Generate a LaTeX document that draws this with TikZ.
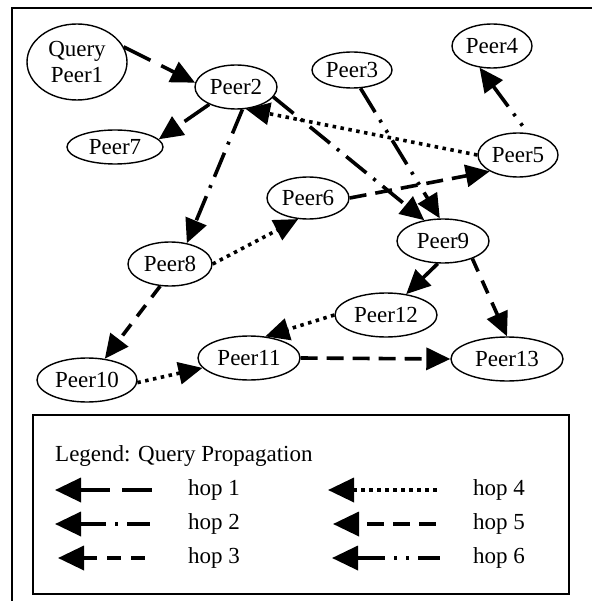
\documentclass[tikz,border=0pt]{standalone}
\usepackage{fontspec}
\setmainfont{Liberation Serif}
\usetikzlibrary{shapes.geometric,arrows.meta}
\tikzset{
 peer/.style={ellipse, draw, line width=1.4pt, inner sep=0pt, font=\fontsize{23}{26}\selectfont},
 legtext/.style={inner sep=0pt, anchor=west, font=\fontsize{23}{26}\selectfont},
 conn/.style={line width=3.6pt, -{Triangle[length=24pt,width=22pt]}},
 legarrow/.style={line width=3.6pt, {Triangle[length=26pt,width=24pt]}-},
 patone/.style={dash pattern=on 30pt off 12pt},
 pattwo/.style={dash pattern=on 26pt off 9pt on 3pt off 9pt},
 patthree/.style={dash pattern=on 14pt off 10pt},
 patfour/.style={dash pattern=on 3.5pt off 4.5pt},
 patfive/.style={dash pattern=on 17pt off 9pt},
 patsix/.style={dash pattern=on 28pt off 9pt on 3pt off 9pt on 3pt off 9pt},
}
\begin{document}
\begin{tikzpicture}[x=1pt,y=-1pt]
\useasboundingbox (0,0) rectangle (592,601);
\draw[line width=2pt] (12,601) -- (12,8) -- (592,8);
% nodes
\node[peer, minimum width=100pt, minimum height=76pt, align=center] (p1) at (77,62) {Query\\Peer1};
\node[peer, minimum width=82pt, minimum height=44pt] (p2) at (236,87) {Peer2};
\node[peer, minimum width=80pt, minimum height=36pt] (p3) at (352,70) {Peer3};
\node[peer, minimum width=80pt, minimum height=44pt] (p4) at (492,46) {Peer4};
\node[peer, minimum width=80pt, minimum height=44pt] (p5) at (518,155) {Peer5};
\node[peer, minimum width=82pt, minimum height=42pt] (p6) at (308,198) {Peer6};
\node[peer, minimum width=96pt, minimum height=34pt] (p7) at (115,147) {Peer7};
\node[peer, minimum width=84pt, minimum height=44pt] (p8) at (170,264) {Peer8};
\node[peer, minimum width=92pt, minimum height=44pt] (p9) at (443,241) {Peer9};
\node[peer, minimum width=100pt, minimum height=44pt] (p10) at (87,380) {Peer10};
\node[peer, minimum width=102pt, minimum height=44pt] (p11) at (249,358) {Peer11};
\node[peer, minimum width=102pt, minimum height=44pt] (p12) at (386,315) {Peer12};
\node[peer, minimum width=112pt, minimum height=44pt] (p13) at (507,359) {Peer13};
% connectors
\draw[conn, patone] (p1.18) -- (p2.174);
\draw[conn, patone] (p2.213) -- (p7.10);
\draw[conn, pattwo] (p2.286) -- (p8.51);
\draw[conn, pattwo] (p2.345) -- (p9.132);
\draw[conn, patsix] (p3.295) -- (p9.98);
\draw[conn, patfour] (p5.180) -- (p2.294);
\draw[conn, patfive] (p6.0) -- (p5.210);
\draw[conn, patfour] (p8.0) -- (p6.245);
\draw[conn, patthree] (p8.246) -- (p10.50);
\draw[conn, patfour] (p10.357) -- (p11.192);
\draw[conn, patfour] (p12.180) -- (p11.53);
\draw[conn, patfive] (p11.0) -- (p13.180);
\draw[conn, patone] (p9.257) -- (p12.46);
\draw[conn, patthree] (p9.329) -- (p13.90);
\draw[conn, patsix, dash phase=28pt] (p5.66) -- (p4.240);
% legend
\draw[line width=1.8pt] (33,415) rectangle (569,594);
\node[legtext] (lt) at (55,456) {Legend: Query Propagation};
\node[legtext] (h1) at (188,490) {hop 1};
\node[legtext] (h2) at (188,524) {hop 2};
\node[legtext] (h3) at (188,558) {hop 3};
\node[legtext] (h4) at (473,490) {hop 4};
\node[legtext] (h5) at (473,524) {hop 5};
\node[legtext] (h6) at (473,558) {hop 6};
\draw[legarrow, patone] ([xshift=-133pt]h1.west) -- ([xshift=-35pt]h1.west);
\draw[legarrow, pattwo] ([xshift=-133pt]h2.west) -- ([xshift=-38pt]h2.west);
\draw[legarrow, patthree] ([xshift=-130pt]h3.west) -- ([xshift=-43pt]h3.west);
\draw[legarrow, patfour] ([xshift=-145pt]h4.west) -- ([xshift=-33pt]h4.west);
\draw[legarrow, patfive, dash phase=17pt] ([xshift=-140pt]h5.west) -- ([xshift=-37pt]h5.west);
\draw[legarrow, patsix] ([xshift=-141pt]h6.west) -- ([xshift=-33pt]h6.west);
\end{tikzpicture}
\end{document}
